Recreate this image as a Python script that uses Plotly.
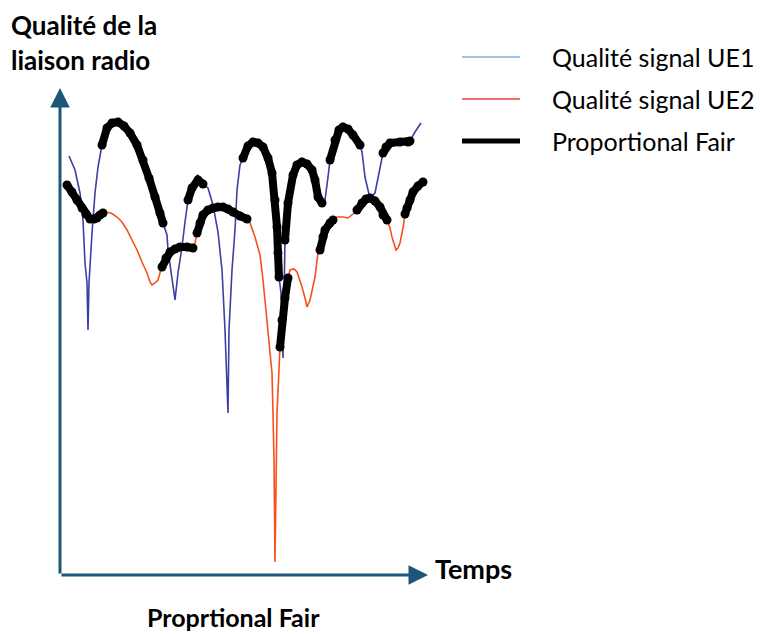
import plotly.graph_objects as go

# UE1 signal quality (time, quality)
ue1_t = [9, 15, 20, 23, 25, 27, 28, 29, 32, 35, 38, 42, 47, 52, 58, 64, 70, 77, 83, 89, 95, 100, 103,
         107, 108, 111, 113, 115, 118, 122, 125, 128, 132, 138, 143, 148, 153, 156, 158, 162, 165, 168,
         169, 172, 175, 177, 180, 183, 188, 193, 198, 203, 208, 212, 215, 217, 218, 219, 221, 222, 223,
         224, 225, 228, 233, 237, 242, 247, 252, 255, 258, 262, 265, 268, 270, 275, 279, 283, 288, 293,
         300, 302, 305, 308, 310, 315, 320, 323, 326, 330, 340, 348, 350, 355, 361]
ue1_q = [419, 405, 382, 355, 312, 292, 245, 292, 342, 382, 408, 430, 447, 452, 453, 449, 442, 430, 415, 397,
         378, 362, 352, 340, 325, 305, 288, 275, 302, 328, 353, 375, 387, 395, 391, 387, 370, 355, 343, 305,
         245, 162, 245, 305, 345, 385, 410, 417, 429, 433, 432, 428, 417, 402, 375, 348, 322, 298, 282, 250,
         217, 275, 335, 372, 400, 410, 413, 411, 405, 395, 378, 372, 375, 398, 415, 435, 445, 448, 446, 440,
         430, 423, 398, 385, 377, 382, 405, 422, 428, 432, 433, 433, 434, 443, 452]

# UE2 signal quality (time, quality)
ue2_t = [7, 12, 17, 22, 26, 30, 34, 37, 40, 43, 45, 51, 57, 62, 67, 72, 77, 82, 87, 90, 92, 95, 98, 100,
         102, 106, 110, 115, 120, 127, 133, 135, 137, 140, 143, 148, 153, 158, 163, 168, 173, 180, 187, 190,
         195, 200, 203, 208, 212, 213, 214, 215, 217, 220, 222, 225, 228, 230, 234, 237, 240, 242, 245, 247,
         250, 253, 255, 258, 260, 263, 265, 270, 273, 277, 283, 288, 293, 297, 302, 306, 310, 315, 320, 323,
         327, 330, 332, 334, 336, 338, 340, 343, 345, 347, 350, 353, 358, 363]
ue2_q = [390, 383, 375, 367, 361, 356, 356, 357, 360, 362, 363, 362, 358, 353, 345, 335, 325, 313, 302, 293,
         290, 292, 295, 302, 308, 317, 323, 326, 328, 328, 327, 332, 342, 352, 360, 365, 367, 368, 368, 366,
         363, 359, 356, 352, 338, 320, 295, 245, 202, 162, 115, 13, 162, 228, 255, 277, 297, 305, 306, 303,
         295, 288, 277, 268, 275, 288, 298, 322, 325, 338, 345, 352, 355, 358, 358, 357, 361, 365, 372, 376,
         377, 374, 368, 360, 355, 347, 338, 330, 325, 327, 332, 347, 361, 367, 375, 383, 389, 393]

# Proportional Fair schedule: (UE served, start time, end time)
pf_ue = [2, 1, 2, 1, 2, 1, 2, 1, 2, 1, 2, 1, 2]
pf_start = [7, 42, 102, 128, 137, 183, 220, 225, 260, 270, 297, 323, 345]
pf_end = [43, 103, 133, 143, 187, 219, 228, 262, 273, 300, 327, 350, 363]

legend_labels = ["Qualité signal UE1", "Qualité signal UE2", "Proportional Fair"]
y_title = ["Qualité de la", "liaison radio"]
x_title = "Temps"
chart_title = "Proprtional Fair"

curves = {1: (ue1_t, ue1_q), 2: (ue2_t, ue2_q)}
pf_t, pf_q = [], []
for ue, a, b in zip(pf_ue, pf_start, pf_end):
    ts, qs = curves[ue]
    for t, q in zip(ts, qs):
        if a <= t <= b:
            pf_t.append(t)
            pf_q.append(q)
    pf_t.append(None)
    pf_q.append(None)

fig = go.Figure()
fig.add_trace(go.Scatter(x=ue1_t, y=ue1_q, mode="lines", line=dict(color="#3b3fa3", width=1.6),
                         name=legend_labels[0], showlegend=False))
fig.add_trace(go.Scatter(x=ue2_t, y=ue2_q, mode="lines", line=dict(color="#f4511e", width=1.6),
                         name=legend_labels[1], showlegend=False))
fig.add_trace(go.Scatter(x=pf_t, y=pf_q, mode="lines+markers", line=dict(color="black", width=8),
                         marker=dict(color="black", size=9), name=legend_labels[2], showlegend=False,
                         connectgaps=False))

W, H = 760, 634
axis_col = "#1d5678"
ann = []
# axes arrows
ann.append(dict(x=0, y=487, ax=0, ay=0, xref="x", yref="y", axref="x", ayref="y", text="",
                showarrow=True, arrowhead=2, arrowsize=1.3, arrowwidth=3, arrowcolor=axis_col))
ann.append(dict(x=368, y=0, ax=0, ay=0, xref="x", yref="y", axref="x", ayref="y", text="",
                showarrow=True, arrowhead=2, arrowsize=1.3, arrowwidth=3, arrowcolor=axis_col))

def px(x, y):
    return x / W, 1 - y / H

for i, line in enumerate(y_title):
    xx, yy = px(9, 25 + 35 * i)
    ann.append(dict(x=xx, y=yy, xref="paper", yref="paper", xanchor="left", yanchor="middle",
                    text="<b>%s</b>" % line, showarrow=False,
                    font=dict(family="Lato", size=26, color="black")))
xx, yy = px(433, 568)
ann.append(dict(x=xx, y=yy, xref="paper", yref="paper", xanchor="left", yanchor="middle",
                text="<b>%s</b>" % x_title, showarrow=False, font=dict(family="Lato", size=27, color="black")))
xx, yy = px(233, 617)
ann.append(dict(x=xx, y=yy, xref="paper", yref="paper", xanchor="center", yanchor="middle",
                text="<b>%s</b>" % chart_title, showarrow=False, font=dict(family="Lato", size=25, color="black")))

shapes = []
leg_cols = ["#7fb0e0", "#e8403a", "black"]
leg_w = [1.5, 1.5, 5]
leg_y = [57, 99, 141]
for lab, c, w, ly in zip(legend_labels, leg_cols, leg_w, leg_y):
    x0, y0 = px(462, ly)
    x1, _ = px(520, ly)
    shapes.append(dict(type="line", xref="paper", yref="paper", x0=x0, x1=x1, y0=y0, y1=y0,
                       line=dict(color=c, width=w)))
    tx, ty = px(550, ly)
    ann.append(dict(x=tx, y=ty, xref="paper", yref="paper", xanchor="left", yanchor="middle",
                    text=lab, showarrow=False, font=dict(family="Lato", size=25, color="black")))

fig.update_layout(width=W, height=H, margin=dict(l=0, r=0, t=0, b=0),
                  paper_bgcolor="white", plot_bgcolor="white",
                  xaxis=dict(range=[-60, 700], visible=False, fixedrange=True),
                  yaxis=dict(range=[-59, 575], visible=False, fixedrange=True),
                  annotations=ann, shapes=shapes, showlegend=False)
fig.write_html("out.html", config={"displayModeBar": False},
               post_script="document.body.style.margin='0';document.body.style.overflow='hidden';")
